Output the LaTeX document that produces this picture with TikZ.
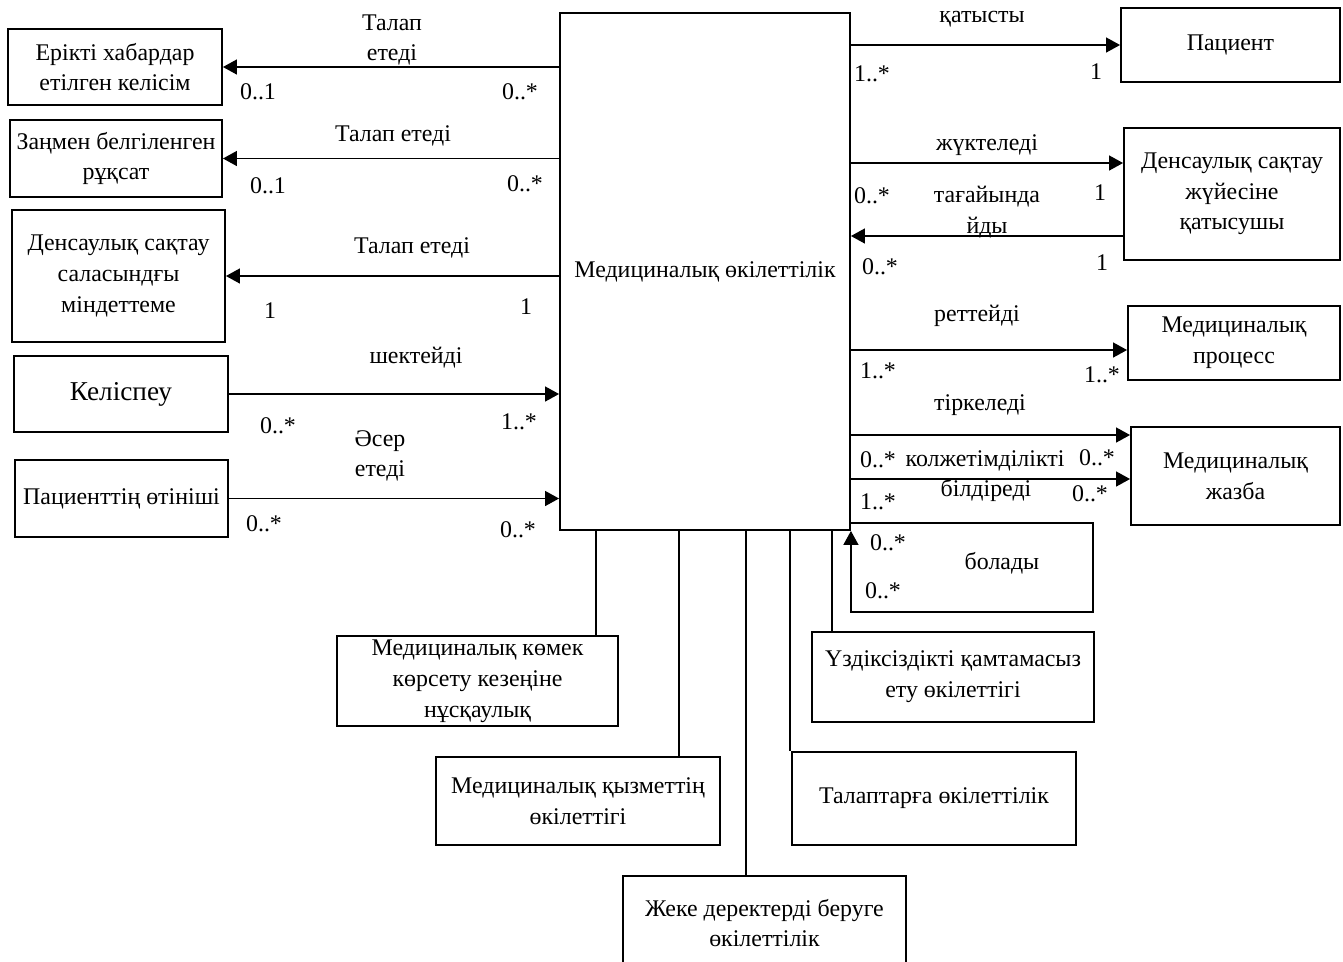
\documentclass[tikz,border=0pt]{standalone}
\usepackage{fontspec}
\setmainfont{Liberation Serif}
\usetikzlibrary{arrows.meta}

\begin{document}
\begin{tikzpicture}[x=0.02cm, y=-0.02cm,
  every node/.style={font=\fontsize{13.6}{17.5}\selectfont, align=center, inner sep=1pt},
  box/.style={draw, line width=1.1pt, inner sep=2pt},
  assoc/.style={line width=0.8pt, -{Triangle[length=0.28cm, width=0.3cm]}},
  link/.style={line width=0.8pt}]
  \useasboundingbox (0,0) rectangle (1343,961);

  % central class
  \node[box, minimum width=5.8cm, minimum height=10.34cm] (main) at (705,271.5) {Медициналық өкілеттілік};

  % left column
  \node[box, minimum width=4.28cm, minimum height=1.52cm] (consent) at (115,67) {Ерікті хабардар\\етілген келісім};
  \node[box, minimum width=4.24cm, minimum height=1.54cm] (permit) at (116,158.5) {Заңмен белгіленген\\рұқсат};
  \node[box, minimum width=4.26cm, minimum height=2.64cm] (duty) at (118.5,276) {Денсаулық сақтау\\саласындғы\\міндеттеме};
  \node[box, minimum width=4.28cm, minimum height=1.52cm] (refuse) at (121,394) {\fontsize{15.5}{18}\selectfont Келіспеу};
  \node[box, minimum width=4.26cm, minimum height=1.54cm] (request) at (121.5,498.5) {Пациенттің өтініші};

  % right column
  \node[box, minimum width=4.38cm, minimum height=1.48cm] (patient) at (1230.5,45) {Пациент};
  \node[box, minimum width=4.32cm, minimum height=2.64cm] (actor) at (1232,194) {Денсаулық сақтау\\жүйесіне\\қатысушы};
  \node[box, minimum width=4.24cm, minimum height=1.48cm] (process) at (1234,343) {Медициналық\\процесс};
  \node[box, minimum width=4.18cm, minimum height=1.96cm] (record) at (1235.5,476) {Медициналық\\жазба};

  % bottom row
  \node[box, minimum width=5.62cm, minimum height=1.8cm] (guide) at (477.5,681) {Медициналық көмек\\көрсету кезеңіне\\нұсқаулық};
  \node[box, minimum width=5.68cm, minimum height=1.76cm] (service) at (578,801) {Медициналық қызметтің\\өкілеттігі};
  \node[box, minimum width=5.66cm, minimum height=1.88cm] (data) at (764.5,923) {Жеке деректерді беруге\\өкілеттілік};
  \node[box, minimum width=5.68cm, minimum height=1.86cm] (reqs) at (934,798.5) {Талаптарға өкілеттілік};
  \node[box, minimum width=5.64cm, minimum height=1.8cm] (contin) at (953,677) {Үздіксіздікті қамтамасыз\\ету өкілеттігі};

  % associations, left
  \draw[assoc] (main.west |- consent.east) -- (consent.east);
  \draw[assoc] (main.west |- permit.east) -- (permit.east);
  \draw[assoc] (main.west |- duty.east) -- (duty.east);
  \draw[assoc] (refuse.east) -- (main.west |- refuse.east);
  \draw[assoc] (request.east) -- (main.west |- request.east);

  \node (t1) at (392,40) {Талап\\етеді};
  \node (t1a) at (258,92) {0..1};
  \node (t1b) at (520,92) {0..*};
  \node (t2) at (393,136) {Талап етеді};
  \node (t2a) at (268,186) {0..1};
  \node (t2b) at (525,184) {0..*};
  \node (t3) at (412,248) {Талап етеді};
  \node (t3a) at (270,311) {1};
  \node (t3b) at (526,307) {1};
  \node (t4) at (416,358) {шектейді};
  \node (t4a) at (278,426) {0..*};
  \node (t4b) at (519,422) {1..*};
  \node (t5) at (380,456) {Әсер\\етеді};
  \node (t5a) at (264,524) {0..*};
  \node (t5b) at (518,530) {0..*};

  % associations, right
  \draw[assoc] (main.east |- patient.west) -- (patient.west);
  \draw[assoc] (main.east |- 0,163) -- (actor.west |- 0,163);
  \draw[assoc] (actor.west |- 0,236) -- (main.east |- 0,236);
  \draw[assoc] (main.east |- 0,350) -- (process.west |- 0,350);
  \draw[assoc] (main.east |- 0,435) -- (record.west |- 0,435);
  \draw[assoc] (main.east |- 0,479) -- (record.west |- 0,479);

  \node (r1) at (982,19) {қатысты};
  \node (r1a) at (872,74) {1..*};
  \node (r1b) at (1096,72) {1};
  \node (r2) at (987,145) {жүктеледі};
  \node (r2a) at (872,196) {0..*};
  \node (r2b) at (1100,193) {1};
  \node (r3) at (987,212) {тағайында\\йды};
  \node (r3a) at (880,267) {0..*};
  \node (r3b) at (1102,263) {1};
  \node (r4) at (977,316) {реттейді};
  \node (r4a) at (878,371) {1..*};
  \node (r4b) at (1102,375) {1..*};
  \node (r5) at (980,405) {тіркеледі};
  \node (r5a) at (878,460) {0..*};
  \node (r5b) at (1097,458) {0..*};
  \node (r6) at (985,461) {колжетімділікті};
  \node (r6b) at (986,490) {білдіреді};
  \node (r6c) at (878,502) {1..*};
  \node (r6d) at (1090,494) {0..*};

  % self association
  \draw[assoc] (main.east |- 0,523) -- (1093,523) |- (main.south east |- 0,612) -- (main.south east);
  \node (s1) at (888,543) {0..*};
  \node (s2) at (1002,563) {болады};
  \node (s3) at (883,591) {0..*};

  % plain links to the bottom boxes
  \draw[link] (main.south -| 596,0) -- (guide.north -| 596,0);
  \draw[link] (main.south -| 679,0) -- (service.north -| 679,0);
  \draw[link] (main.south -| 746,0) -- (data.north -| 746,0);
  \draw[link] (main.south -| 790,0) -- (reqs.north -| 790,0);
  \draw[link] (main.south -| 832,0) -- (contin.north -| 832,0);
\end{tikzpicture}
\end{document}
